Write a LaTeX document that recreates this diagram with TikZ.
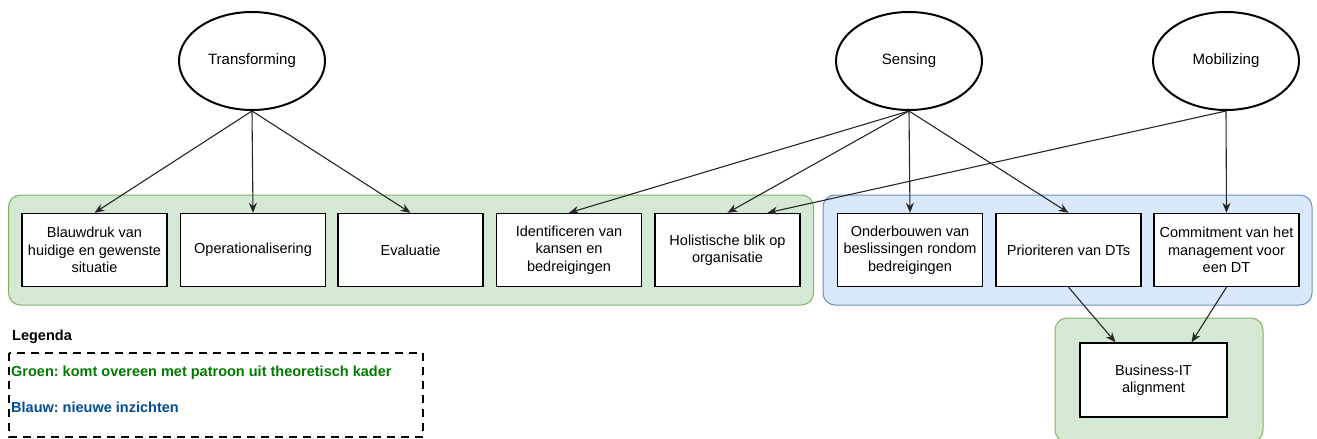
\documentclass[tikz,border=0pt]{standalone}
\usepackage{fontspec}
\setmainfont{Liberation Sans}
\frenchspacing
\usetikzlibrary{arrows.meta,calc,shapes.geometric}
\definecolor{grpfill}{HTML}{D5E8D4}
\definecolor{grpline}{HTML}{82B366}
\definecolor{blufill}{HTML}{DAE8FC}
\definecolor{bluline}{HTML}{6C8EBF}
\definecolor{legGreen}{HTML}{007A00}
\definecolor{legBlue}{HTML}{004C99}
\tikzset{
  x=1pt, y=-1pt,
  capability/.style={draw, line width=2pt, ellipse, minimum width=146pt, minimum height=98pt,
    inner sep=0pt, font=\fontsize{15}{17}\selectfont},
  activity/.style={draw, line width=1.4pt, fill=white, minimum width=145pt, minimum height=73pt,
    inner sep=0pt, align=center, font=\fontsize{14.5}{17.5}\selectfont},
  greengroup/.style={draw=grpline, fill=grpfill, line width=1pt, rounded corners=12pt, inner sep=0pt},
  bluegroup/.style={draw=bluline, fill=blufill, line width=1pt, rounded corners=12pt, inner sep=0pt},
  link/.style={-{Stealth[length=10pt,width=8pt]}, line width=1.1pt, draw=black!85},
  legendtext/.style={anchor=west, font=\bfseries\fontsize{14.5}{16}\selectfont, inner sep=0pt},
}
\begin{document}
\begin{tikzpicture}
\useasboundingbox (0,0) rectangle (1317,439);

% group panels
\node[greengroup, minimum width=805pt, minimum height=110pt] (gA) at (411,250) {};
\node[bluegroup, minimum width=489pt, minimum height=110pt] (gB) at (1067.5,250) {};
\node[greengroup, minimum width=208pt, minimum height=124pt] (gC) at (1159,380) {};

% capabilities
\node[capability] (T) at (252,61) {Transforming};
\node[capability] (S) at (909,61) {Sensing};
\node[capability] (M) at (1226,61) {Mobilizing};

% activities
\node[activity] (b1) at (94.5,250) {Blauwdruk van\\huidige en gewenste\\situatie};
\node[activity] (b2) at (253,250) {Operationalisering};
\node[activity] (b3) at (410.5,250) {Evaluatie};
\node[activity] (b4) at (569,250) {Identificeren van\\kansen en\\bedreigingen};
\node[activity] (b5) at (727.5,250) {Holistische blik op\\organisatie};
\node[activity] (b6) at (910,250) {Onderbouwen van\\beslissingen rondom\\bedreigingen};
\node[activity] (b7) at (1068.5,250) {Prioriteren van DTs};
\node[activity] (b8) at (1226.5,250) {Commitment van het\\management voor\\een DT};
\node[activity, minimum width=147pt, minimum height=74pt] (bit) at (1153.5,380) {Business-IT\\alignment};

% connectors
\draw[link] (T.south) -- (b1.north);
\draw[link] (T.south) -- (b2.north);
\draw[link] (T.south) -- (b3.north);
\draw[link] (S.south) -- (b4.north);
\draw[link] (S.south) -- (b5.north);
\draw[link] (S.south) -- (b6.north);
\draw[link] (S.south) -- (b7.north);
\draw[link] (M.south) -- ($(b5.north)+(40,0)$);
\draw[link] (M.south) -- (b8.north);
\draw[link] (b7.south) -- ($(bit.north)+(-38,0)$);
\draw[link] (b8.south) -- ($(bit.north)+(38,0)$);

% legend
\node[legendtext] (legT) at (12,337) {Legenda};
\draw[line width=1.8pt, dash pattern=on 8pt off 6pt] (9,353) rectangle (423,437);
\node[legendtext, text=legGreen] (legG) at (11,373) {Groen: komt overeen met patroon uit theoretisch kader};
\node[legendtext, text=legBlue] (legB) at (11,407) {Blauw: nieuwe inzichten};
\end{tikzpicture}
\end{document}
